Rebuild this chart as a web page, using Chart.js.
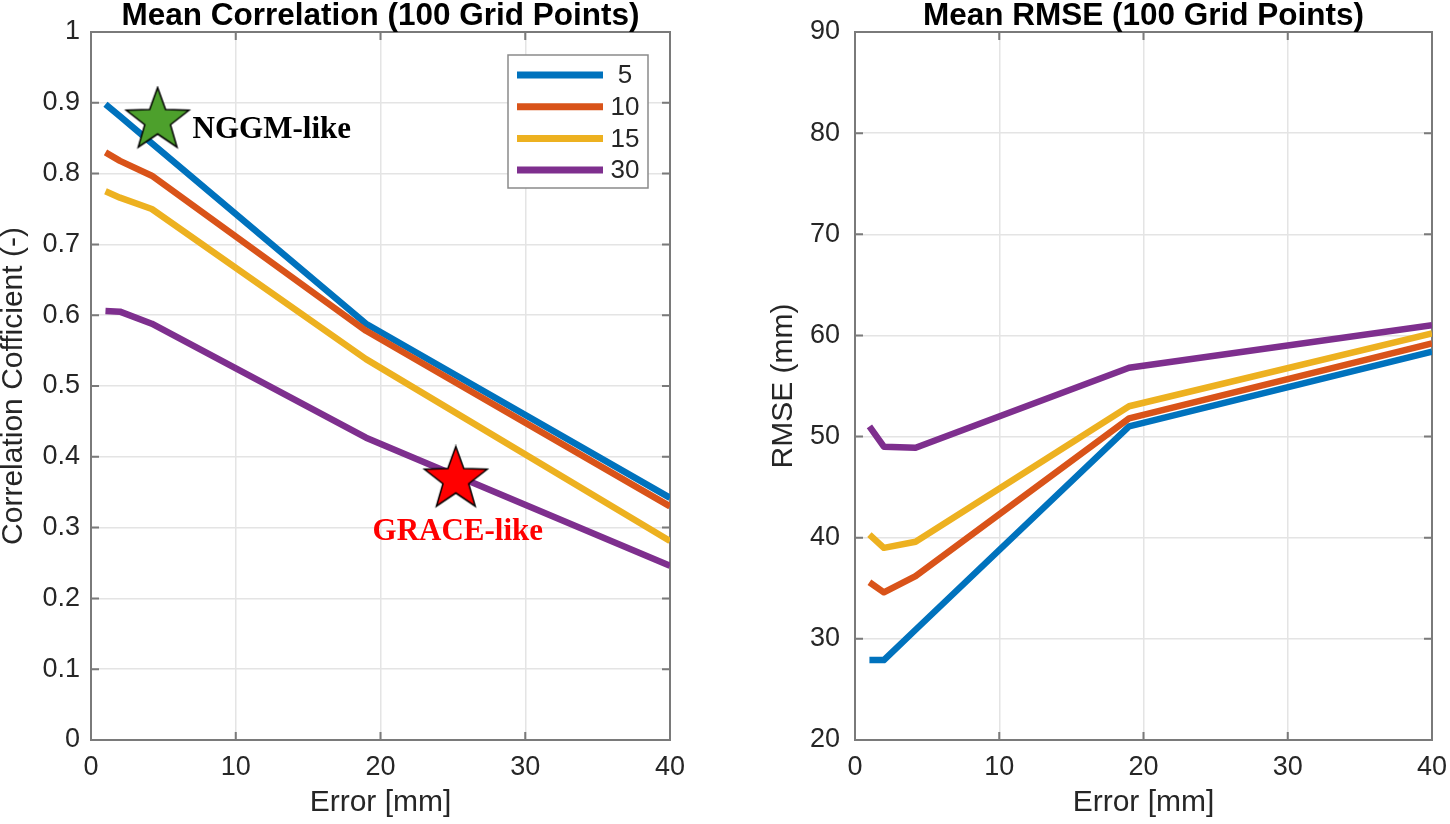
<!DOCTYPE html>
<html>
<head>
<meta charset="utf-8">
<script src="https://cdn.jsdelivr.net/npm/chart.js@4.4.1/dist/chart.umd.min.js"></script>
<style>
  html, body { margin: 0; padding: 0; background: #fff; }
  #wrap { position: relative; width: 1450px; height: 824px; overflow: hidden; }
  .panel { position: absolute; top: 0; width: 725px; height: 824px; }
</style>
</head>
<body>
<div id="wrap">
  <div class="panel" style="left:0"><canvas id="corr" width="725" height="824"></canvas></div>
  <div class="panel" style="left:725px"><canvas id="rmse" width="725" height="824"></canvas></div>
</div>
<script>
// x positions of the simulated errors (mm)
const errorMm = [1, 2, 4.2, 19, 40];
const seriesNames = ['5', '10', '15', '30'];
const seriesColors = ['#0072BD', '#D95319', '#EDB120', '#7E2F8E'];

// mean correlation per series
const corr5  = [0.898, 0.881, 0.843, 0.588, 0.342];
const corr10 = [0.830, 0.818, 0.797, 0.578, 0.330];
const corr15 = [0.775, 0.766, 0.750, 0.538, 0.281];
const corr30 = [0.606, 0.605, 0.588, 0.427, 0.246];

// mean RMSE per series (mm)
const rmse5  = [27.9, 27.9, 30.9, 51.0, 58.4];
const rmse10 = [35.6, 34.6, 36.2, 51.8, 59.2];
const rmse15 = [40.3, 39.0, 39.6, 53.0, 60.2];
const rmse30 = [51.0, 49.0, 48.9, 56.8, 61.0];

const xTicks = [0, 10, 20, 30, 40];
const xTickLabels = ['0', '10', '20', '30', '40'];
const corrTicks = [0, 0.1, 0.2, 0.3, 0.4, 0.5, 0.6, 0.7, 0.8, 0.9, 1];
const corrTickLabels = ['0', '0.1', '0.2', '0.3', '0.4', '0.5', '0.6', '0.7', '0.8', '0.9', '1'];
const rmseTicks = [20, 30, 40, 50, 60, 70, 80, 90];
const rmseTickLabels = ['20', '30', '40', '50', '60', '70', '80', '90'];

// mission markers on the correlation panel
const markerNames = ['NGGM-like', 'GRACE-like'];
const markerErr = [4.6, 25.2];
const markerCorr = [0.875, 0.368];
const markerFills = ['#4DA02C', '#FF0000'];
const markerTextColors = ['#000000', '#FF0000'];

const SANS = '"Liberation Sans", Arial, Helvetica, sans-serif';
const SERIF = '"Liberation Serif", "Times New Roman", serif';
const INK = '#262626';

function makeStar(fill, R) {
  const c = document.createElement('canvas');
  const s = Math.ceil(2 * R + 4);
  c.width = s; c.height = s;
  const g = c.getContext('2d');
  g.beginPath();
  for (let k = 0; k < 10; k++) {
    const r = k % 2 === 0 ? R : R * 0.41;
    const a = -Math.PI / 2 + k * Math.PI / 5;
    const px = s / 2 + r * Math.cos(a), py = s / 2 + r * Math.sin(a);
    if (k === 0) g.moveTo(px, py); else g.lineTo(px, py);
  }
  g.closePath();
  g.fillStyle = fill;
  g.fill();
  g.lineWidth = 1.5;
  g.strokeStyle = '#000';
  g.stroke();
  return c;
}

function pts(ys) {
  return errorMm.map((x, i) => ({ x: x, y: ys[i] }));
}

function lineSets(all) {
  return all.map((ys, i) => ({
    label: seriesNames[i],
    data: pts(ys),
    borderColor: seriesColors[i],
    backgroundColor: seriesColors[i],
    borderWidth: 6.5,
    borderJoinStyle: 'round',
    pointRadius: 0,
    tension: 0,
    order: 10 - i
  }));
}

// MATLAB style box, inward ticks, title, legend and marker labels
const matlabPlugin = {
  id: 'matlab',
  beforeDatasetsDraw(chart) {
    const { ctx, chartArea: a, scales } = chart;
    ctx.save();
    ctx.strokeStyle = '#7a7a7a';
    ctx.lineWidth = 2;
    ctx.beginPath();
    scales.y.ticks.forEach(t => {
      const py = scales.y.getPixelForValue(t.value);
      ctx.moveTo(a.left, py); ctx.lineTo(a.left + 8, py);
      ctx.moveTo(a.right, py); ctx.lineTo(a.right - 8, py);
    });
    scales.x.ticks.forEach(t => {
      const px = scales.x.getPixelForValue(t.value);
      ctx.moveTo(px, a.bottom); ctx.lineTo(px, a.bottom - 8);
      ctx.moveTo(px, a.top); ctx.lineTo(px, a.top + 8);
    });
    ctx.stroke();
    ctx.strokeRect(a.left, a.top, a.right - a.left, a.bottom - a.top);
    ctx.restore();
  },
  afterDraw(chart, args, opts) {
    const { ctx, chartArea: a } = chart;
    ctx.save();
    ctx.fillStyle = '#000';
    ctx.font = 'bold 31.5px ' + SANS;
    ctx.textAlign = 'center';
    ctx.textBaseline = 'alphabetic';
    ctx.fillText(opts.title, (a.left + a.right) / 2, 25);

    if (opts.legend) {
      const bx = a.right - 162, by = a.top + 23, bw = 140, bh = 133;
      ctx.fillStyle = '#fff';
      ctx.fillRect(bx, by, bw, bh);
      ctx.strokeStyle = '#8a8a8a';
      ctx.lineWidth = 1.5;
      ctx.strokeRect(bx, by, bw, bh);
      ctx.font = '26px ' + SANS;
      ctx.textBaseline = 'middle';
      ctx.textAlign = 'center';
      seriesNames.forEach((name, i) => {
        const ry = by + 20 + i * 31.7;
        ctx.strokeStyle = seriesColors[i];
        ctx.lineWidth = 7;
        ctx.beginPath();
        ctx.moveTo(bx + 9, ry); ctx.lineTo(bx + 95, ry);
        ctx.stroke();
        ctx.fillStyle = INK;
        ctx.fillText(name, bx + 117, ry + 1);
      });
    }

    if (opts.markers) {
      const meta = chart.getDatasetMeta(opts.markers);
      ctx.font = 'bold 31px ' + SERIF;
      ctx.textBaseline = 'alphabetic';
      meta.data.forEach((p, i) => {
        ctx.fillStyle = markerTextColors[i];
        if (i === 0) {
          ctx.textAlign = 'left';
          ctx.fillText(markerNames[i], p.x + 35, p.y + 17);
        } else {
          ctx.textAlign = 'center';
          ctx.fillText(markerNames[i], p.x + 2, p.y + 61);
        }
      });
    }
    ctx.restore();
  }
};

function axes(yMin, yMax, yTicks, yLabels, yTitle, yWidth, yPad, yTitlePad) {
  return {
    x: {
      type: 'linear', min: 0, max: 40,
      afterBuildTicks: s => { s.ticks = xTicks.map(v => ({ value: v })); },
      afterFit: s => { s.height = 84; },
      grid: { color: '#e4e4e4', lineWidth: 1.5, drawTicks: false },
      border: { display: false },
      ticks: {
        // small padding keeps the edge label from widening the right margin;
        // the tall line height pushes the labels down instead
        font: { family: SANS, size: 27, lineHeight: 1.92 }, color: INK,
        padding: 2, maxRotation: 0, autoSkip: false,
        callback: (v, i) => xTickLabels[i]
      },
      title: {
        display: true, text: 'Error [mm]', color: INK,
        font: { family: SANS, size: 30, lineHeight: 1 },
        padding: { top: 0, bottom: 6 }
      }
    },
    y: {
      type: 'linear', min: yMin, max: yMax,
      afterBuildTicks: s => { s.ticks = yTicks.map(v => ({ value: v })); },
      afterFit: s => { s.width = yWidth; },
      grid: { color: '#e4e4e4', lineWidth: 1.5, drawTicks: false },
      border: { display: false },
      ticks: {
        font: { family: SANS, size: 27, lineHeight: 1 }, color: INK,
        padding: yPad, autoSkip: false,
        callback: (v, i) => yLabels[i]
      },
      title: {
        display: true, text: yTitle, color: INK,
        font: { family: SANS, size: 30, lineHeight: 0.9 },
        padding: { top: yTitlePad, bottom: 0 }
      }
    }
  };
}

const baseOpts = {
  responsive: false,
  animation: false,
  events: [],
  plugins: { legend: { display: false }, tooltip: { enabled: false } }
};

const corrSets = lineSets([corr5, corr10, corr15, corr30]);
corrSets.push({
  label: 'markers',
  data: markerErr.map((x, i) => ({ x: x, y: markerCorr[i] })),
  showLine: false,
  pointStyle: markerFills.map(f => makeStar(f, 33)),
  pointRadius: 30,
  order: 0
});

new Chart(document.getElementById('corr'), {
  type: 'line',
  data: { datasets: corrSets },
  options: Object.assign({}, baseOpts, {
    layout: { padding: { top: 32, right: 55, left: 0, bottom: 0 } },
    scales: axes(0, 1, corrTicks, corrTickLabels, 'Correlation Cofficient (-)', 91, 11, 0),
    plugins: Object.assign({}, baseOpts.plugins, {
      matlab: { title: 'Mean Correlation (100 Grid Points)', legend: true, markers: 4 }
    })
  }),
  plugins: [matlabPlugin]
});

new Chart(document.getElementById('rmse'), {
  type: 'line',
  data: { datasets: lineSets([rmse5, rmse10, rmse15, rmse30]) },
  options: Object.assign({}, baseOpts, {
    layout: { padding: { top: 32, right: 18, left: 0, bottom: 0 } },
    scales: axes(20, 90, rmseTicks, rmseTickLabels, 'RMSE (mm)', 130, 15, 45),
    plugins: Object.assign({}, baseOpts.plugins, {
      matlab: { title: 'Mean RMSE (100 Grid Points)', legend: false, markers: 0 }
    })
  }),
  plugins: [matlabPlugin]
});
</script>
</body>
</html>
